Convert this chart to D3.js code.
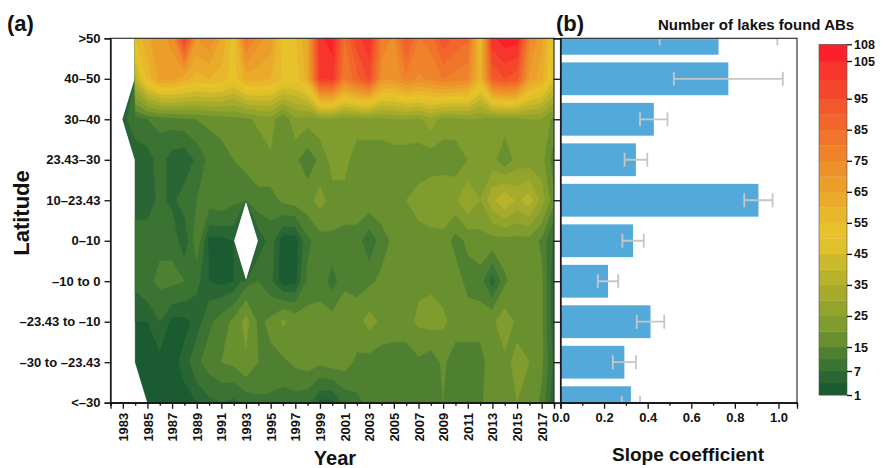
<!DOCTYPE html>
<html lang="en">
<head>
<meta charset="UTF-8">
<title>Number of lakes found ABs</title>
<style>
body { margin: 0; background: #fff; }
svg { display: block; font-family: "Liberation Sans", Arial, sans-serif; font-weight: bold; }
.axis text { font-size: 13px; font-weight: bold; fill: #111; font-family: "Liberation Sans", Arial, sans-serif; }
.axis path, .axis line { stroke: #111; stroke-width: 1.3; }
.legend-axis text { font-size: 12.5px; }
.title { fill: #111; }
</style>
</head>
<body>
<svg width="883" height="468"></svg>
<script src="https://cdn.jsdelivr.net/npm/d3@7"></script>
<script>

var years = d3.range(1982, 2019);
var latLabels = [">50", "40\u201350", "30\u201340", "23.43\u201330", "10\u201323.43", "0\u201310",
                 "\u201310 to 0", "\u201323.43 to \u201310", "\u201330 to \u201323.43", "<\u201330"];

// lakes found ABs per latitude band (rows) and year 1982..2018 (columns), null = no data
var lakesGt50   = [null, null, 55, 64, 68, 72, 100, 70, 74, 64, 52, 82, 72, 68, 52, 54, 64, 104, 107, 84, 98, 104, 78, 74, 92, 80, 82, 94, 88, 86, 52, 104, 108, 107, 76, 66, 46];
var lakes40_50  = [null, null, 38, 56, 66, 66, 62, 58, 60, 58, 52, 62, 62, 60, 54, 52, 62, 100, 102, 80, 88, 96, 72, 70, 78, 74, 76, 80, 78, 76, 58, 90, 95, 92, 68, 62, 46];
var lakes30_40  = [null, 6, 9, 11, 12, 13, 14, 15, 16, 17, 18, 19, 21, 23, 15, 24, 22, 24, 24, 22, 23, 23, 23, 25, 25, 24, 28, 23, 23, 25, 24, 22, 23, 23, 25, 25, 18];
var lakes23_30  = [null, null, 5, 5, 9, 5, 4, 8, 12, 13, 15, 16, 17, 19, 18, 16, 12, 16, 22, 22, 17, 17, 17, 17, 17, 17, 17, 17, 17, 20, 22, 22, 16, 22, 22, 22, 12];
var lakes10_23  = [null, null, 5, 5, 8, 6, 9, 11, 13, 14, 12, 13, 14, 13, 16, 17, 18, 22, 18, 18, 18, 18, 18, 18, 20, 22, 24, 25, 24, 30, 25, 34, 40, 34, 38, 28, 16];
var lakes0_10   = [null, null, 9, 9, 10, 10, 4, 14, 3, 3, 4, null, 4, 9, 2, 2, 10, 13, 14, 13, 13, 8, 13, 16, 18, 18, 18, 18, 13, 16, 18, 18, 18, 18, 18, 14, 6];
var lakesM10_0  = [null, null, 8, 10, 12, 12, 11, 8, 4, 3, 4, 9, 11, 8, 2, 3, 12, 14, 9, 14, 13, 14, 16, 18, 17, 19, 19, 18, 18, 13, 13, 5, 14, 18, 18, 16, 4];
var lakesM23_10 = [null, null, 4, 4, 7, 3, 3, 5, 10, 13, 16, 22, 14, 16, 21, 18, 17, 16, 17, 18, 18, 22, 19, 18, 18, 21, 22, 21, 18, 18, 17, 19, 23, 19, 19, 16, 4];
var lakesM30_23 = [null, null, 3, 3, 3, 3, 5, 10, 13, 15, 16, 19, 15, 14, 14, 16, 17, 16, 17, 17, 14, 13, 12, 12, 12, 14, 12, 16, 12, 12, 13, 18, 19, 21, 20, 16, 6];
var lakesLtM30  = [null, null, null, 3, 3, 3, 3, 4, 6, 7, 6, 8, 10, 10, 9, 9, 8, 3, 3, 8, 10, 12, 12, 12, 12, 12, 13, 15, 12, 12, 14, 18, 18, 20, 18, 14, 4];
var lakes = [lakesGt50, lakes40_50, lakes30_40, lakes23_30, lakes10_23, lakes0_10,
             lakesM10_0, lakesM23_10, lakesM30_23, lakesLtM30];

// slope coefficient per latitude band and its error
var slope    = [0.725, 0.77, 0.428, 0.346, 0.908, 0.333, 0.218, 0.413, 0.293, 0.323];
var slopeErr = [0.27, 0.25, 0.063, 0.052, 0.065, 0.049, 0.047, 0.063, 0.053, 0.042];

// contour levels and colour of the band above each level
var levels = [1, 4, 7, 11, 15, 20, 25, 30, 35, 40, 45, 50, 55, 60, 65, 70, 75, 80, 85, 90, 95, 100, 105];
var levelColors = ["#1b5b31", "#2a6633", "#3b7332", "#4f8031", "#69902f", "#809c2e", "#93a42d", "#a6ab2c",
                   "#b9b22b", "#ccb92b", "#dfc12a", "#e8c22a", "#e9b72b", "#eaab2b", "#ec9e2b", "#ed912b",
                   "#ef832b", "#f0752b", "#f2662b", "#f3572c", "#f5462c", "#f7352c", "#fc202c"];
var maxLevel = 108;
var legendTicks = [1, 7, 15, 25, 35, 45, 55, 65, 75, 85, 95, 105, 108];

var svg = d3.select("svg");

var plotA = {left: 110.5, right: 554, top: 38.3, bottom: 402.7};
var plotB = {left: 560.5, right: 797};

var x = d3.scaleLinear().domain([1982, 2018]).range([plotA.left, plotA.right]);
var y = d3.scalePoint().domain(latLabels).range([plotA.top, plotA.bottom]);
var yRow = d3.scaleLinear().domain([0, latLabels.length - 1]).range(y.range());

// ---- panel (a): filled contours
var nx = years.length + 2, ny = latLabels.length + 2;
var grid = new Array(nx * ny).fill(NaN);
lakes.forEach(function(row, j) {
    row.forEach(function(v, i) {
        grid[(j + 1) * nx + (i + 1)] = v == null ? NaN : v;
    });
});

var bands = d3.contours().size([nx, ny]).thresholds(levels)(grid);

var toPlot = d3.geoTransform({
    point: function(gx, gy) {
        this.stream.point(x(years[0] + gx - 1.5), yRow(gy - 1.5));
    }
});
var contourPath = d3.geoPath(toPlot);

svg.append("clipPath").attr("id", "clipA")
    .append("rect")
    .attr("x", plotA.left).attr("y", plotA.top)
    .attr("width", plotA.right - plotA.left).attr("height", plotA.bottom - plotA.top);

svg.append("g").attr("clip-path", "url(#clipA)")
    .selectAll("path")
    .data(bands)
    .join("path")
    .attr("d", contourPath)
    .attr("fill", function(d, i) { return levelColors[i]; })
    .attr("stroke", function(d, i) { return levelColors[i]; })
    .attr("stroke-width", 0.4);

svg.append("rect")
    .attr("x", plotA.left).attr("y", plotA.top)
    .attr("width", plotA.right - plotA.left).attr("height", plotA.bottom - plotA.top)
    .attr("fill", "none").attr("stroke", "#333").attr("stroke-width", 1.2);

svg.append("g").attr("class", "axis")
    .attr("transform", "translate(" + plotA.left + ",0)")
    .call(d3.axisLeft(y).tickSize(6).tickPadding(4));

var oddYears = years.filter(function(d) { return d % 2 === 1; });
var evenYears = years.filter(function(d) { return d % 2 === 0; });

svg.append("g").attr("class", "axis")
    .attr("transform", "translate(0," + plotA.bottom + ")")
    .call(d3.axisBottom(x).tickValues(evenYears).tickSize(3).tickFormat(""));

svg.append("g").attr("class", "axis")
    .attr("transform", "translate(0," + plotA.bottom + ")")
    .call(d3.axisBottom(x).tickValues(oddYears).tickSize(6).tickFormat(d3.format("d")))
    .selectAll("text")
    .attr("transform", "rotate(-90)")
    .attr("text-anchor", "end")
    .attr("x", -10).attr("y", 0).attr("dy", "0.35em");

// ---- panel (b): bars with error bars
var xs = d3.scaleLinear().domain([0, 1.085]).range([plotB.left, plotB.right]);
var barH = y.step() * 0.81;

svg.append("clipPath").attr("id", "clipB")
    .append("rect")
    .attr("x", plotB.left).attr("y", plotA.top)
    .attr("width", plotB.right - plotB.left).attr("height", plotA.bottom - plotA.top);

var gB = svg.append("g").attr("clip-path", "url(#clipB)");

gB.selectAll("rect.bar")
    .data(latLabels)
    .join("rect")
    .attr("class", "bar")
    .attr("x", xs(0))
    .attr("y", function(d) { return y(d) - barH / 2; })
    .attr("width", function(d, i) { return xs(slope[i]) - xs(0); })
    .attr("height", barH)
    .attr("fill", "#52a9da");

var err = gB.selectAll("g.err")
    .data(latLabels)
    .join("g")
    .attr("class", "err")
    .attr("stroke", "#c6c6c6")
    .attr("stroke-width", 1.8);

err.append("line")
    .attr("x1", function(d, i) { return xs(slope[i] - slopeErr[i]); })
    .attr("x2", function(d, i) { return xs(slope[i] + slopeErr[i]); })
    .attr("y1", function(d) { return y(d); })
    .attr("y2", function(d) { return y(d); });

[-1, 1].forEach(function(sgn) {
    err.append("line")
        .attr("x1", function(d, i) { return xs(slope[i] + sgn * slopeErr[i]); })
        .attr("x2", function(d, i) { return xs(slope[i] + sgn * slopeErr[i]); })
        .attr("y1", function(d) { return y(d) - 7; })
        .attr("y2", function(d) { return y(d) + 7; });
});

svg.append("rect")
    .attr("x", plotB.left).attr("y", plotA.top)
    .attr("width", plotB.right - plotB.left).attr("height", plotA.bottom - plotA.top)
    .attr("fill", "none").attr("stroke", "#333").attr("stroke-width", 1.2);

svg.append("g").attr("class", "axis")
    .attr("transform", "translate(" + plotB.left + ",0)")
    .call(d3.axisLeft(y).tickSize(7).tickFormat(""));

svg.append("g").attr("class", "axis")
    .attr("transform", "translate(0," + plotA.bottom + ")")
    .call(d3.axisBottom(xs).tickValues(d3.range(0.1, 1.05, 0.2)).tickSize(3).tickFormat(""));

svg.append("g").attr("class", "axis")
    .attr("transform", "translate(0," + plotA.bottom + ")")
    .call(d3.axisBottom(xs).tickValues([0, 0.2, 0.4, 0.6, 0.8, 1.0]).tickSize(6).tickPadding(4)
        .tickFormat(d3.format(".1f")));

svg.selectAll(".axis .domain").attr("stroke", "#111");

// ---- colour legend
var legendY = d3.scaleLinear()
    .domain([1, 7, 15, 95, 105, 108])
    .range([395, 371, 347, 98.7, 61, 44.3]);
var legendX = 819, legendW = 28;

var legend = svg.append("g");
legend.selectAll("rect")
    .data(levels)
    .join("rect")
    .attr("x", legendX)
    .attr("y", function(d, i) { return legendY(i + 1 < levels.length ? levels[i + 1] : maxLevel); })
    .attr("width", legendW)
    .attr("height", function(d, i) {
        return legendY(d) - legendY(i + 1 < levels.length ? levels[i + 1] : maxLevel) + 0.3;
    })
    .attr("fill", function(d, i) { return levelColors[i]; });

legend.append("rect")
    .attr("x", legendX).attr("y", legendY(maxLevel))
    .attr("width", legendW).attr("height", legendY(1) - legendY(maxLevel))
    .attr("fill", "none").attr("stroke", "#555").attr("stroke-width", 0.6);

svg.append("g").attr("class", "axis legend-axis")
    .attr("transform", "translate(" + (legendX + legendW) + ",0)")
    .call(d3.axisRight(legendY).tickValues(legendTicks).tickSize(5).tickPadding(2).tickFormat(d3.format("d")))
    .select(".domain").remove();

// ---- titles
svg.append("text").attr("class", "title").attr("x", 7).attr("y", 31)
    .attr("font-size", 22).text("(a)");
svg.append("text").attr("class", "title").attr("x", 556).attr("y", 31)
    .attr("font-size", 22).text("(b)");
svg.append("text").attr("class", "title").attr("x", 658).attr("y", 30)
    .attr("font-size", 15).text("Number of lakes found ABs");
svg.append("text").attr("class", "title").attr("x", 335).attr("y", 465)
    .attr("text-anchor", "middle").attr("font-size", 20).text("Year");
svg.append("text").attr("class", "title").attr("x", 688).attr("y", 461)
    .attr("text-anchor", "middle").attr("font-size", 19).text("Slope coefficient");
svg.append("text").attr("class", "title")
    .attr("transform", "translate(29,213) rotate(-90)")
    .attr("text-anchor", "middle").attr("font-size", 22).text("Latitude");

</script>
</body>
</html>
